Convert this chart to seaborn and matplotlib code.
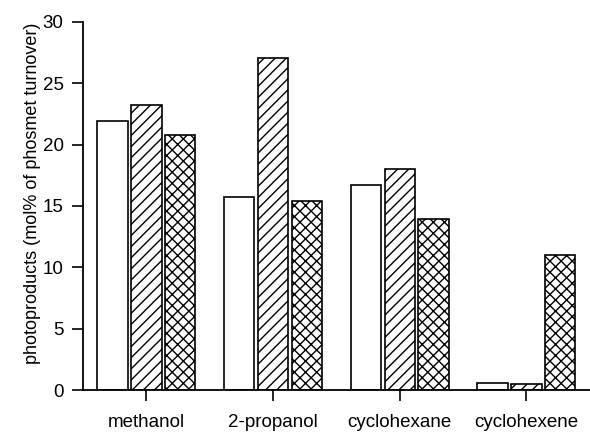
import matplotlib
matplotlib.use("Agg")
import matplotlib.pyplot as plt
import seaborn as sns
import pandas as pd

# Photoproduct yields per solvent, three conditions each
solvents = ["methanol", "2-propanol", "cyclohexane", "cyclohexene"]
conditions = ["A", "B", "C"]
yield_a = [21.9, 15.7, 16.7, 0.6]
yield_b = [23.2, 27.1, 18.0, 0.5]
yield_c = [20.8, 15.4, 13.9, 11.0]
hatches = ["", "///", "xxx"]
y_ticks = [0, 5, 10, 15, 20, 25, 30]

rows = []
for cond, vals in zip(conditions, [yield_a, yield_b, yield_c]):
    for s, v in zip(solvents, vals):
        rows.append({"solvent": s, "condition": cond, "value": v})
df = pd.DataFrame(rows)

sns.set_style("ticks")
plt.rcParams["font.family"] = ["Liberation Sans", "DejaVu Sans"]
plt.rcParams["hatch.linewidth"] = 1.0
plt.rcParams["text.color"] = "black"
plt.rcParams["axes.labelcolor"] = "black"
plt.rcParams["xtick.color"] = "black"
plt.rcParams["ytick.color"] = "black"

fig = plt.figure(figsize=(5.9, 4.32), dpi=100)
ax = fig.add_axes([0.1407, 0.0972, 0.859, 0.852])

sns.barplot(data=df, x="solvent", y="value", hue="condition",
            order=solvents, hue_order=conditions,
            palette=["white"] * 3, width=0.8, gap=0.1,
            edgecolor="black", linewidth=1.2, legend=False, ax=ax,
            errorbar=None)

for cont, h in zip(ax.containers, hatches):
    for bar in cont:
        bar.set_hatch(h)
        bar.set_facecolor("white")
        bar.set_edgecolor("black")

ax.set_xlim(-0.5, 3.5)
ax.set_ylim(0, 30)
ax.set_yticks(y_ticks)
ax.set_xlabel("")
ax.set_ylabel("photoproducts (mol% of phosmet turnover)", fontsize=13)
ax.yaxis.set_label_coords(-0.083, 0.535)
ax.tick_params(axis="both", labelsize=13.5, width=1.2, color="black",
               labelcolor="black")
ax.tick_params(axis="y", length=8, pad=6)
ax.tick_params(axis="x", length=8, pad=9)
sns.despine(ax=ax)
for sp in ["left", "bottom"]:
    ax.spines[sp].set_linewidth(1.3)
    ax.spines[sp].set_color("black")

fig.savefig("out.png", dpi=100)
